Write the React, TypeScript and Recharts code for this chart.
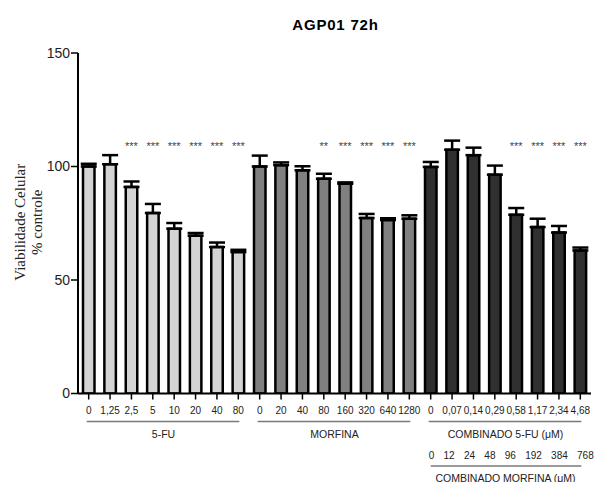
import React from 'react';
import { ComposedChart, Bar, Cell, ErrorBar, XAxis, YAxis, Line } from 'recharts';

// ---------- data ----------
const title = 'AGP01 72h';
const yTitleLines = ['Viabilidade Celular', '% controle'];
const yTicks = [0, 50, 100, 150];
const STAR_LEVEL = 110;

const fuLabels = ['0', '1,25', '2,5', '5', '10', '20', '40', '80'];
const fuValues = [100, 101, 91, 79.5, 72.6, 69.5, 64.5, 62.3];
const fuErrors = [1.2, 4, 2.4, 4, 2.5, 1.2, 2, 1];
const fuStars = ['', '', '***', '***', '***', '***', '***', '***'];

const morLabels = ['0', '20', '40', '80', '160', '320', '640', '1280'];
const morValues = [100, 100.6, 98.3, 94.6, 92.4, 77.3, 76.4, 77];
const morErrors = [4.8, 1.2, 1.8, 2.2, 0.6, 1.8, 0.8, 1.5];
const morStars = ['', '', '', '**', '***', '***', '***', '***'];

const combLabels = ['0', '0,07', '0,14', '0,29', '0,58', '1,17', '2,34', '4,68'];
const combValues = [99.8, 107.4, 105, 96.4, 78.7, 73.3, 70.9, 63];
const combErrors = [2.2, 4, 3.3, 4, 3, 3.7, 2.9, 1.3];
const combStars = ['', '', '', '', '***', '***', '***', '***'];
const combMorphineLabels = ['0', '12', '24', '48', '96', '192', '384', '768'];

const groups = [
  { name: '5-FU', labels: fuLabels, values: fuValues, errors: fuErrors, stars: fuStars, color: '#d4d4d4', sub: null as null | { labels: string[]; name: string } },
  { name: 'MORFINA', labels: morLabels, values: morValues, errors: morErrors, stars: morStars, color: '#808080', sub: null },
  { name: 'COMBINADO 5-FU (\u03bcM)', labels: combLabels, values: combValues, errors: combErrors, stars: combStars, color: '#303030', sub: { labels: combMorphineLabels, name: 'COMBINADO MORFINA (\u03bcM)' } },
];

const rows = groups.flatMap((g, gi) =>
  g.labels.map((l, i) => ({
    key: `${gi}-${i}`,
    label: l,
    value: g.values[i],
    err: [0, g.errors[i]],
    stars: g.stars[i],
    starY: g.stars[i] ? STAR_LEVEL : null,
    color: g.color,
    groupIndex: gi,
    first: i === 0,
  }))
);

// ---------- layout ----------
const W = 598;
const H = 482;
const MARGIN = { top: 53, right: 7, bottom: 58.5, left: 0 };
const Y_AXIS_W = 78;
const X_AXIS_H = 30;
const SANS = '"Liberation Sans", Arial, Helvetica, sans-serif';
const SERIF = '"Liberation Serif", "Times New Roman", serif';
const STEP = (W - MARGIN.left - MARGIN.right - Y_AXIS_W) / rows.length;

const XTick = (props: any) => {
  const { x, y, payload } = props;
  const row = rows[payload.index];
  const els: React.ReactNode[] = [
    <text key="t" x={x} y={y + 10} textAnchor="middle" fontSize={10} fontFamily={SANS} fill="#222">
      {row.label}
    </text>,
  ];
  if (row.first) {
    const g = groups[row.groupIndex];
    const n = g.labels.length;
    const x0 = x - 2;
    const x1 = x + (n - 1) * STEP + 1;
    const cx = x + ((n - 1) * STEP) / 2;
    els.push(<line key="l" x1={x0} x2={x1} y1={y + 18} y2={y + 18} stroke="#7a7a7a" strokeWidth={1.5} />);
    els.push(
      <text key="g" x={cx} y={y + 34} textAnchor="middle" fontSize={10.5} fontFamily={SANS} fill="#222">
        {g.name}
      </text>
    );
    if (g.sub) {
      els.push(
        <text key="s" x={x - 2} y={y + 55.5} textAnchor="start" fontSize={10} fontFamily={SANS} fill="#222" style={{ wordSpacing: '6.5px' }}>
          {g.sub.labels.join(' ')}
        </text>
      );
      els.push(<line key="l2" x1={x0 + 2} x2={x1} y1={y + 62.5} y2={y + 62.5} stroke="#7a7a7a" strokeWidth={1.5} />);
      els.push(
        <text key="g2" x={cx} y={y + 78} textAnchor="middle" fontSize={10.5} fontFamily={SANS} fill="#222">
          {g.sub.name}
        </text>
      );
    }
  }
  return <g>{els}</g>;
};

const StarDot = (props: any) => {
  const { cx, cy, payload, index } = props;
  if (!payload || !payload.stars || cy == null) return <g key={`s${index}`} />;
  return (
    <text key={`s${index}`} x={cx} y={cy + 6} textAnchor="middle" fontSize={11} fontFamily={SANS} fill="#444">
      {payload.stars}
    </text>
  );
};

const YTitle = (props: any) => {
  const vb = props.viewBox || {};
  const cy = (vb.y ?? 53) + (vb.height ?? 340) / 2 - 1;
  return (
    <g>
      <text transform={`translate(25, ${cy}) rotate(-90)`} textAnchor="middle" fontSize={15} fontFamily={SERIF} fill="#222">
        {yTitleLines[0]}
      </text>
      <text transform={`translate(42, ${cy}) rotate(-90)`} textAnchor="middle" fontSize={15} fontFamily={SERIF} fill="#222">
        {yTitleLines[1]}
      </text>
    </g>
  );
};

export default function App() {
  return (
    <div style={{ position: 'absolute', left: 0, top: 0, width: W, height: H, background: '#fff' }}>
      <ComposedChart width={W} height={H} data={rows} margin={MARGIN}>
        <XAxis
          dataKey="key"
          type="category"
          height={X_AXIS_H}
          interval={0}
          tick={<XTick />}
          tickSize={6}
          tickMargin={4}
          axisLine={{ stroke: '#000', strokeWidth: 2 }}
          tickLine={{ stroke: '#000', strokeWidth: 1.5 }}
        />
        <YAxis
          width={Y_AXIS_W}
          domain={[0, 150]}
          ticks={yTicks}
          allowDataOverflow
          tickSize={7}
          tickMargin={1}
          tick={{ fontSize: 14, fontFamily: SANS, fill: '#222' }}
          axisLine={{ stroke: '#000', strokeWidth: 2 }}
          tickLine={{ stroke: '#000', strokeWidth: 1.5 }}
          label={{ content: <YTitle /> }}
        />
        <Bar dataKey="value" barSize={11.5} stroke="#000" strokeWidth={2.5} isAnimationActive={false}>
          {rows.map((r) => (
            <Cell key={r.key} fill={r.color} />
          ))}
          <ErrorBar dataKey="err" direction="y" width={8} stroke="#000" strokeWidth={2.5} isAnimationActive={false} />
        </Bar>
        <Line dataKey="starY" stroke="none" dot={StarDot} activeDot={false} isAnimationActive={false} legendType="none" />
      </ComposedChart>
      <svg width={W} height={H} style={{ position: 'absolute', left: 0, top: 0, pointerEvents: 'none' }}>
        <text x={335.5} y={30} textAnchor="middle" fontSize={15} fontWeight="bold" fontFamily={SANS} letterSpacing={0.8} fill="#000">
          {title}
        </text>
      </svg>
    </div>
  );
}
